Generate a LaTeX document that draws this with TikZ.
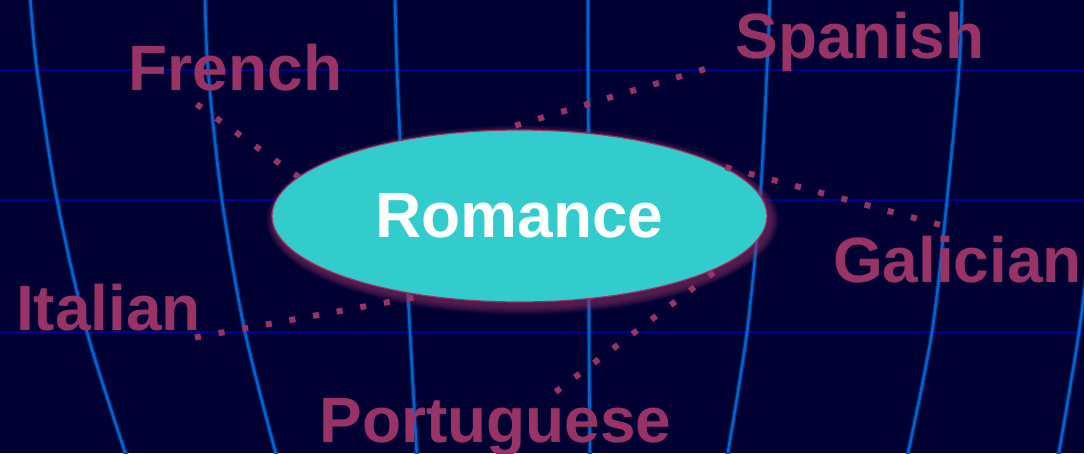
\documentclass[tikz,border=0pt]{standalone}
\usepackage{fontspec}
\setmainfont{Liberation Sans}
\usetikzlibrary{shapes.geometric}

\begin{document}
\begin{tikzpicture}[x=1pt,y=-1pt]

% Colori
\definecolor{colBg}{HTML}{000033}
\definecolor{colRiga}{HTML}{000099}
\definecolor{colMer}{HTML}{0066CC}
\definecolor{colAlone}{HTML}{0040A0}
\definecolor{colLab}{HTML}{993366}
\definecolor{colRom}{HTML}{33CCCC}

\tikzset{
  riga/.style={colRiga, line width=1.8pt},
  meridiano/.style={colMer, line width=2.6pt,
    preaction={draw=colAlone, line width=5pt, opacity=0.5}},
  lingua/.style={text=colLab, font=\fontsize{64}{70}\selectfont\bfseries,
    inner sep=0pt, anchor=base},
  puntini/.style={colLab, line width=6pt, dash pattern=on 6pt off 18pt},
}

% Sfondo
\fill[colBg] (0,0) rectangle (1084,453);
\useasboundingbox (0,0) rectangle (1084,453);
\clip (0,0) rectangle (1084,453);

% Paralleli
\foreach \y in {70,200,332}
  \draw[riga] (0,\y) -- (1084,\y);

% Meridiani
\draw[meridiano] plot[smooth] coordinates {(30,-5) (37,70) (57,200) (87,332) (127,458)};
\draw[meridiano] plot[smooth] coordinates {(205,-5) (208,70) (222,200) (245,332) (277,458)};
\draw[meridiano] plot[smooth] coordinates {(395,-5) (397,70) (403,200) (410,332) (417,458)};
\draw[meridiano] plot[smooth] coordinates {(588,-5) (588,70) (589,200) (589,332) (590,458)};
\draw[meridiano] plot[smooth] coordinates {(770,-5) (767,70) (760,200) (747,332) (727,458)};
\draw[meridiano] plot[smooth] coordinates {(962,-5) (959,70) (947,200) (932,332) (907,458)};
\draw[meridiano] plot[smooth] coordinates {(1102,150) (1093,220) (1079,332) (1058,458)};

% Alone dell'ellisse
\foreach \k in {1,...,7}
  \fill[colLab, opacity=0.11] (522.5,220) ellipse [x radius=247.5+1.2*\k, y radius=86+1.2*\k];

% Ellisse centrale
\node[ellipse, fill=colRom, draw=colLab, line width=1.2pt,
  minimum width=495pt, minimum height=172pt, inner sep=0pt, outer sep=0pt,
  text=white, font=\fontsize{64}{70}\selectfont\bfseries] (romance) at (519.5,216) {Romance};

% Lingue
\node[lingua] (french) at (235.5,90) {French};
\node[lingua] (spanish) at (860,58) {Spanish};
\node[lingua] (galician) at (957.5,282) {Galician};
\node[lingua] (italian) at (108.5,330) {Italian};
\node[lingua] (portuguese) at (495.5,442) {Portuguese};

% Estremi dei collegamenti
\coordinate (cFr) at (196.6,104.2);
\coordinate (cSp) at (704.9,69.1);
\coordinate (cGa) at (939.9,224.8);
\coordinate (cIt) at (195,337.5);
\coordinate (cPo) at (555.6,391.8);

% Collegamenti
\draw[puntini] (cFr) -- (romance.170);
\draw[puntini] (cSp) -- (romance.103);
\draw[puntini] (cGa) -- (romance.14);
\draw[puntini] (cIt) -- (romance.220);
\draw[puntini] (cPo) -- (romance.347);

\end{tikzpicture}
\end{document}
